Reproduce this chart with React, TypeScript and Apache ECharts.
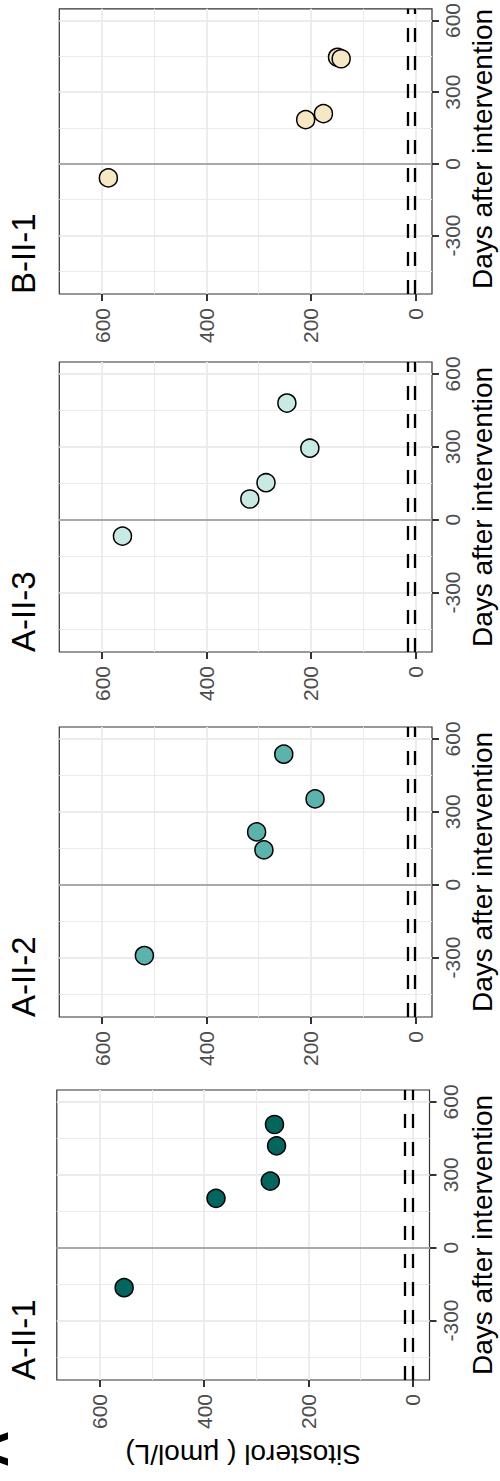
import React, { useEffect, useRef } from "react";
import * as echarts from "echarts";

// ---- data ----
const panelNames = ["B-II-1", "A-II-3", "A-II-2", "A-II-1"];
const panelColors = ["#f6e8c3", "#c7eae5", "#5ab4ac", "#01665e"];

const sitoB = [588, 210, 176, 149, 142];
const daysB = [-59, 185, 210, 446, 440];
const sitoA3 = [561, 317, 286, 202, 246];
const daysA3 = [-68, 85, 152, 294, 480];
const sitoA2 = [519, 290, 304, 192, 252];
const daysA2 = [-292, 143, 217, 353, 537];
const sitoA1 = [553, 377, 273, 261, 265];
const daysA1 = [-165, 203, 274, 419, 507];

const panelSito = [sitoB, sitoA3, sitoA2, sitoA1];
const panelDays = [daysB, daysA3, daysA2, daysA1];

const sitoTicks = [0, 200, 400, 600];
const sitoMinor = [100, 300, 500];
const dayTicks = [-300, 0, 300, 600];
const dayMinor = [-450, -150, 150, 450];
const refLines = [1, 15];
const sitoRange = [-32, 682];
const dayRange = [-545, 649];

const yTitle = "Sitosterol ( µmol/L)";
const xTitle = "Days after intervention";
const figLabel = "A";

// ---- layout ----
const FONT = "'Liberation Sans', Arial, Helvetica, sans-serif";
const panelTops = [4, 362, 727, 1090];
const panelLefts = [59.3, 59.3, 59.3, 56.8];
const PW = 372.7;
const PH = 290;

export default function App() {
  const ref = useRef<HTMLDivElement>(null);

  useEffect(() => {
    document.body.style.margin = "0";
    if (!ref.current) return;
    const chart = echarts.init(ref.current, undefined, { renderer: "svg" });

    const grids: any[] = [];
    const xAxes: any[] = [];
    const yAxes: any[] = [];
    const series: any[] = [];
    const graphics: any[] = [];

    panelNames.forEach((name, i) => {
      grids.push({
        left: panelLefts[i],
        top: panelTops[i],
        width: PW,
        height: PH,
        show: true,
        backgroundColor: "#fff",
        borderColor: "#333333",
        borderWidth: 1.2,
        containLabel: false,
      });
      xAxes.push({
        gridIndex: i,
        type: "value",
        min: sitoRange[0],
        max: sitoRange[1],
        inverse: true,
        position: "bottom",
        axisLine: { show: false, onZero: false },
        splitLine: { show: false },
        axisTick: {
          show: true,
          customValues: sitoTicks,
          length: 7,
          lineStyle: { color: "#333333", width: 2 },
        },
        axisLabel: {
          customValues: sitoTicks,
          rotate: 90,
          margin: 14,
          fontSize: 21,
          color: "#4d4d4d",
          fontFamily: FONT,
        },
      });
      yAxes.push({
        gridIndex: i,
        type: "value",
        min: dayRange[0],
        max: dayRange[1],
        position: "right",
        axisLine: { show: false, onZero: false },
        splitLine: { show: false },
        axisTick: {
          show: true,
          customValues: dayTicks,
          length: 7,
          lineStyle: { color: "#333333", width: 2 },
        },
        axisLabel: {
          customValues: dayTicks,
          rotate: 90,
          margin: 10,
          fontSize: 21,
          color: "#4d4d4d",
          fontFamily: FONT,
        },
      });

      const mlData: any[] = [];
      sitoMinor.forEach((v) => mlData.push({ xAxis: v, lineStyle: { color: "#ebebeb", width: 1, type: "solid" } }));
      dayMinor.forEach((v) => mlData.push({ yAxis: v, lineStyle: { color: "#ebebeb", width: 1, type: "solid" } }));
      sitoTicks.forEach((v) => mlData.push({ xAxis: v, lineStyle: { color: "#ebebeb", width: 1.8, type: "solid" } }));
      dayTicks.forEach((v) => mlData.push({ yAxis: v, lineStyle: { color: "#ebebeb", width: 1.8, type: "solid" } }));
      mlData.push({ yAxis: 0, lineStyle: { color: "#a9a9a9", width: 2, type: "solid" } });
      refLines.forEach((v) => mlData.push({ xAxis: v, lineStyle: { color: "#000", width: 2.3, type: [14, 14] } }));

      series.push({
        type: "scatter",
        xAxisIndex: i,
        yAxisIndex: i,
        data: [],
        silent: true,
        z: 1,
        markLine: {
          silent: true,
          symbol: ["none", "none"],
          label: { show: false },
          emphasis: { disabled: true },
          animation: false,
          data: mlData,
        },
      });

      series.push({
        type: "scatter",
        name,
        xAxisIndex: i,
        yAxisIndex: i,
        z: 10,
        symbol: "circle",
        symbolSize: 18,
        itemStyle: { color: panelColors[i], borderColor: "#000", borderWidth: 1.5, opacity: 1 },
        data: panelSito[i].map((s, k) => [s, panelDays[i][k]]),
      });

      // panel title
      graphics.push({
        type: "text",
        x: 23.6,
        y: panelTops[i] + PH,
        rotation: Math.PI / 2,
        style: {
          text: name,
          fontSize: 33,
          fontFamily: FONT,
          fill: "#000",
          textAlign: "left",
          textVerticalAlign: "middle",
          align: "left",
          verticalAlign: "middle",
        },
      });
      // x (days) title
      graphics.push({
        type: "text",
        x: 482,
        y: panelTops[i] + PH / 2,
        rotation: Math.PI / 2,
        style: {
          text: xTitle,
          fontSize: 28,
          fontFamily: FONT,
          fill: "#000",
          textAlign: "center",
          textVerticalAlign: "middle",
          align: "center",
          verticalAlign: "middle",
        },
      });
    });

    // y title (upside down)
    graphics.push({
      type: "text",
      x: panelLefts[3] + PW / 2,
      y: 1454.7,
      rotation: Math.PI,
      style: {
        text: yTitle,
        fontSize: 28,
        fontFamily: FONT,
        fill: "#000",
        textAlign: "center",
        textVerticalAlign: "middle",
        align: "center",
        verticalAlign: "middle",
      },
    });
    // figure letter
    graphics.push({
      type: "text",
      x: -9.3,
      y: 1449,
      rotation: Math.PI / 2,
      style: {
        text: figLabel,
        fontSize: 50,
        fontWeight: "bold",
        fontFamily: FONT,
        fill: "#000",
        textAlign: "center",
        textVerticalAlign: "middle",
        align: "center",
        verticalAlign: "middle",
      },
    });

    chart.setOption({
      animation: false,
      backgroundColor: "#fff",
      grid: grids,
      xAxis: xAxes,
      yAxis: yAxes,
      series,
      graphic: { elements: graphics },
    });

    return () => chart.dispose();
  }, []);

  return <div ref={ref} style={{ width: 500, height: 1481 }} />;
}
